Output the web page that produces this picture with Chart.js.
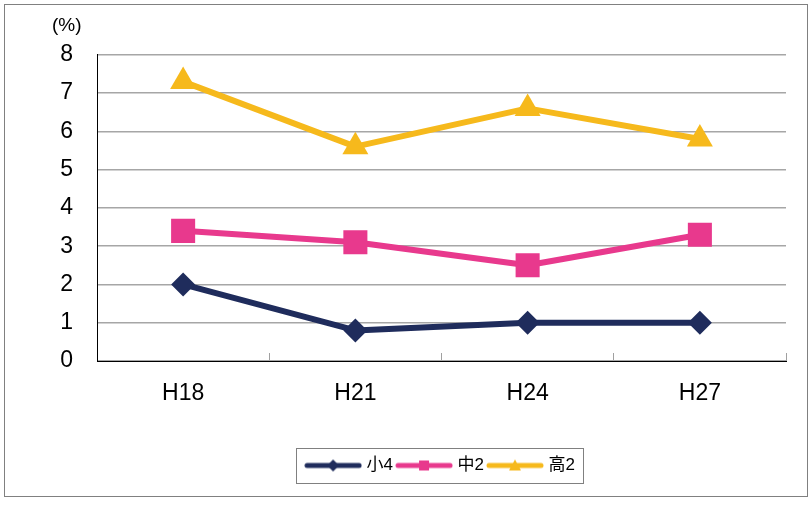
<!DOCTYPE html>
<html>
<head>
<meta charset="utf-8">
<script src="https://cdn.jsdelivr.net/npm/chart.js"></script>
<style>
  html, body { margin: 0; padding: 0; background: #fff; }
  #wrap { width: 810px; height: 506px; }
</style>
</head>
<body>
<div id="wrap"><canvas id="myChart" width="810" height="506"></canvas></div>
<script>
var years = ["H18", "H21", "H24", "H27"];
var seriesNames = ["小4", "中2", "高2"];
var shou4 = [2.0, 0.8, 1.0, 1.0];
var chuu2 = [3.4, 3.1, 2.5, 3.3];
var kou2 = [7.3, 5.6, 6.6, 5.8];
var yTicks = [0, 1, 2, 3, 4, 5, 6, 7, 8];
var unitLabel = "(%)";

var navy = "#1f2c5c";
var pink = "#e8398d";
var gold = "#f6b91c";
var fontFam = "'Liberation Sans', 'Noto Sans CJK JP', sans-serif";

// kleines Bild fuer die Legende: Linie mit Marker in der Mitte
function legendIcon(color, shape) {
    var c = document.createElement("canvas");
    c.width = 58;
    c.height = 14;
    var ctx = c.getContext("2d");
    ctx.strokeStyle = color;
    ctx.fillStyle = color;
    ctx.lineWidth = 5;
    ctx.lineCap = "round";
    ctx.beginPath();
    ctx.moveTo(3, 7);
    ctx.lineTo(55, 7);
    ctx.stroke();
    ctx.beginPath();
    if (shape == "diamond") {
        ctx.moveTo(29, 1); ctx.lineTo(35, 7); ctx.lineTo(29, 13); ctx.lineTo(23, 7);
    } else if (shape == "square") {
        ctx.rect(24, 2, 10, 10);
    } else {
        ctx.moveTo(29, 1); ctx.lineTo(35, 12); ctx.lineTo(23, 12);
    }
    ctx.closePath();
    ctx.fill();
    return c;
}

var icons = [legendIcon(navy, "diamond"), legendIcon(pink, "square"), legendIcon(gold, "triangle")];

var frameAndLegendBox = {
    id: "frameAndLegendBox",
    afterDraw: function(chart) {
        var ctx = chart.ctx;
        ctx.save();
        ctx.strokeStyle = "#808080";
        ctx.lineWidth = 1;
        ctx.strokeRect(4.5, 4.5, 803, 492);
        var boxes = chart.legend.legendHitBoxes;
        if (boxes && boxes.length) {
            var l = boxes[0].left, r = 0;
            boxes.forEach(function(b) {
                l = Math.min(l, b.left);
                r = Math.max(r, b.left + b.width);
            });
            var cy = boxes[0].top + boxes[0].height / 2;
            ctx.strokeRect(Math.round(l - 12) + 0.5, Math.round(cy - 17.5) + 0.5, Math.round(r - l + 20), 35);
        }
        ctx.restore();
    }
};

new Chart("myChart", {
    type: "line",
    data: {
        labels: years,
        datasets: [{
            label: seriesNames[0],
            data: shou4,
            borderColor: navy,
            backgroundColor: navy,
            borderWidth: 6,
            pointStyle: "rectRot",
            pointRadius: 12,
            pointBorderWidth: 0
        }, {
            label: seriesNames[1],
            data: chuu2,
            borderColor: pink,
            backgroundColor: pink,
            borderWidth: 6,
            pointStyle: "rect",
            pointRadius: 17,
            pointBorderWidth: 0
        }, {
            label: seriesNames[2],
            data: kou2,
            borderColor: gold,
            backgroundColor: gold,
            borderWidth: 6,
            pointStyle: "triangle",
            pointRadius: 15,
            pointBorderWidth: 0
        }]
    },
    options: {
        responsive: false,
        animation: false,
        devicePixelRatio: 1,
        layout: { padding: { left: 52, right: 24, top: 0, bottom: 22 } },
        elements: { line: { tension: 0, borderJoinStyle: "round", borderCapStyle: "round", fill: false } },
        plugins: {
            tooltip: { enabled: false },
            title: {
                display: true,
                text: unitLabel,
                align: "start",
                color: "#000",
                font: { family: fontFam, size: 19, weight: "normal" },
                padding: { top: 14, bottom: 18 }
            },
            legend: {
                position: "bottom",
                fullSize: false,
                labels: {
                    usePointStyle: true,
                    pointStyleWidth: 50,
                    padding: 6,
                    color: "#000",
                    font: { family: fontFam, size: 17 },
                    generateLabels: function(chart) {
                        return chart.data.datasets.map(function(ds, i) {
                            return { text: ds.label, pointStyle: icons[i], datasetIndex: i, hidden: false, lineWidth: 0, fillStyle: ds.borderColor, strokeStyle: ds.borderColor };
                        });
                    }
                }
            }
        },
        scales: {
            x: {
                offset: true,
                grid: { offset: true, drawOnChartArea: false, drawTicks: true, tickLength: -8, color: "#a0a0a0", lineWidth: 1 },
                border: { display: true, color: "#000", width: 1 },
                ticks: { color: "#000", font: { family: fontFam, size: 23 }, padding: 26.5 },
                afterFit: function(scale) { scale.height = 90; }
            },
            y: {
                min: 0,
                max: 8,
                afterBuildTicks: function(scale) { scale.ticks = yTicks.map(function(v) { return { value: v }; }); },
                grid: { color: "#a6a6a6", lineWidth: 1.5, drawTicks: false },
                border: { display: true, color: "#000", width: 1 },
                ticks: { color: "#000", font: { family: fontFam, size: 23 }, padding: 24 },
                afterFit: function(scale) { scale.width = 45; }
            }
        }
    },
    plugins: [frameAndLegendBox]
});
</script>
</body>
</html>
